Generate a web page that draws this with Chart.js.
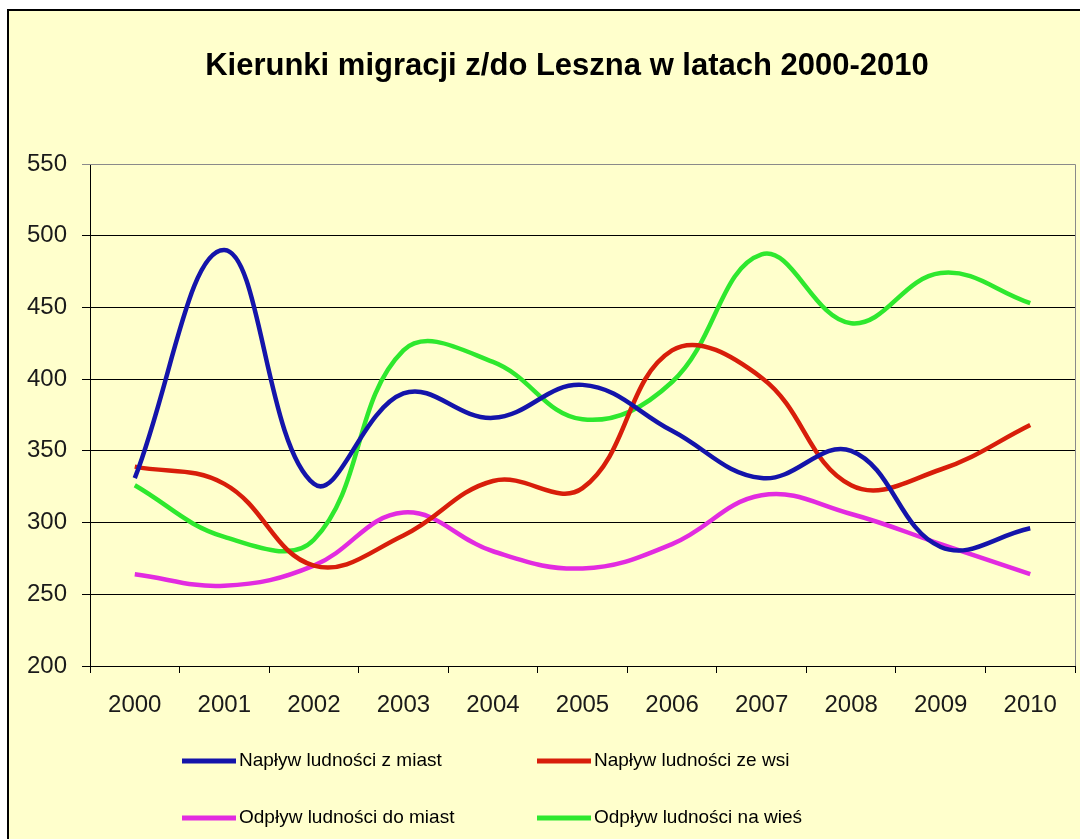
<!DOCTYPE html>
<html>
<head>
<meta charset="utf-8">
<script src="https://cdn.jsdelivr.net/npm/chart.js@4"></script>
<style>
  html, body { margin: 0; padding: 0; background: #fff; }
  canvas { display: block; }
</style>
</head>
<body>
<canvas id="chart" width="1080" height="839"></canvas>
<script>
const years = ['2000', '2001', '2002', '2003', '2004', '2005', '2006', '2007', '2008', '2009', '2010'];
const inflowFromCities = [331, 490, 327, 390, 373, 396, 364, 331, 350, 283, 296];
const inflowFromVillages = [339, 327, 270, 291, 329, 324, 420, 401, 326, 337, 368];
const outflowToCities = [264, 256, 270, 307, 280, 268, 285, 319, 306, 285, 264];
const outflowToVillages = [326, 290, 288, 420, 412, 372, 398, 487, 439, 474, 453];
const seriesNames = [
  'Napływ ludności z miast',
  'Napływ ludności ze wsi',
  'Odpływ ludności do miast',
  'Odpływ ludności na wieś'
];
const seriesColors = ['#1414AA', '#D81E0A', '#E22BE0', '#2EE82E'];
const titleText = 'Kierunki migracji z/do Leszna w latach 2000-2010';

const FONT = "'Liberation Sans', Arial, sans-serif";

// background, frame, title and the two-column legend
const decor = {
  id: 'decor',
  beforeDraw(chart) {
    const { ctx, width, height } = chart;
    ctx.save();
    ctx.fillStyle = '#ffffff';
    ctx.fillRect(0, 0, width, height);
    ctx.fillStyle = '#FFFFCC';
    ctx.fillRect(8, 10, width, height);
    ctx.strokeStyle = '#000';
    ctx.lineWidth = 2;
    ctx.strokeRect(8, 10, width + 10, height + 10);
    ctx.restore();
  },
  beforeDatasetsDraw(chart) {
    const { ctx, chartArea } = chart;
    ctx.save();
    ctx.strokeStyle = '#8a8a8a';
    ctx.lineWidth = 1;
    ctx.beginPath();
    ctx.moveTo(chartArea.left, chartArea.top + 0.5);
    ctx.lineTo(chartArea.right + 0.5, chartArea.top + 0.5);
    ctx.lineTo(chartArea.right + 0.5, chartArea.bottom);
    ctx.stroke();
    ctx.restore();
  },
  afterDraw(chart) {
    const { ctx } = chart;
    ctx.save();
    ctx.fillStyle = '#000';
    ctx.font = 'bold 31px ' + FONT;
    ctx.textAlign = 'center';
    ctx.textBaseline = 'middle';
    ctx.fillText(titleText, 567, 66);

    const colX = [182, 537];
    const rowY = [761, 818];
    ctx.font = '19px ' + FONT;
    ctx.textAlign = 'left';
    chart.data.datasets.forEach((ds, i) => {
      const x = colX[i % 2];
      const y = rowY[Math.floor(i / 2)];
      ctx.strokeStyle = ds.borderColor;
      ctx.lineWidth = 5;
      ctx.beginPath();
      ctx.moveTo(x, y);
      ctx.lineTo(x + 54, y);
      ctx.stroke();
      ctx.fillStyle = '#000';
      ctx.fillText(ds.label, x + 57, y);
    });
    ctx.restore();
  }
};

const allSeries = [inflowFromCities, inflowFromVillages, outflowToCities, outflowToVillages];

new Chart(document.getElementById('chart'), {
  type: 'line',
  data: {
    labels: years,
    datasets: allSeries.map((values, i) => ({
      label: seriesNames[i],
      data: values,
      borderColor: seriesColors[i],
      backgroundColor: seriesColors[i],
      borderWidth: 4.5,
      pointRadius: 0,
      tension: 0.4,
      fill: false
    }))
  },
  options: {
    responsive: false,
    animation: false,
    devicePixelRatio: 1,
    layout: { padding: { top: 164, left: 0, right: 5, bottom: 100 } },
    plugins: {
      legend: { display: false },
      title: { display: false },
      tooltip: { enabled: false }
    },
    scales: {
      x: {
        offset: true,
        afterFit(scale) { scale.height = 73; },
        grid: { offset: true, drawOnChartArea: false, tickLength: 7, color: '#000' },
        border: { color: '#000', width: 1 },
        ticks: {
          font: { family: FONT, size: 24 },
          color: '#1a1a1a',
          padding: 18,
          autoSkip: false,
          maxRotation: 0
        }
      },
      y: {
        min: 200,
        max: 550,
        afterFit(scale) { scale.width = 90; },
        grid: {
          color: ctx => (ctx.tick && ctx.tick.value === 550 ? '#8a8a8a' : '#000'),
          lineWidth: 1,
          tickLength: 8
        },
        border: { color: '#000', width: 1 },
        ticks: {
          stepSize: 50,
          font: { family: FONT, size: 24 },
          color: '#1a1a1a',
          padding: 15
        }
      }
    }
  },
  plugins: [decor]
});
</script>
</body>
</html>
